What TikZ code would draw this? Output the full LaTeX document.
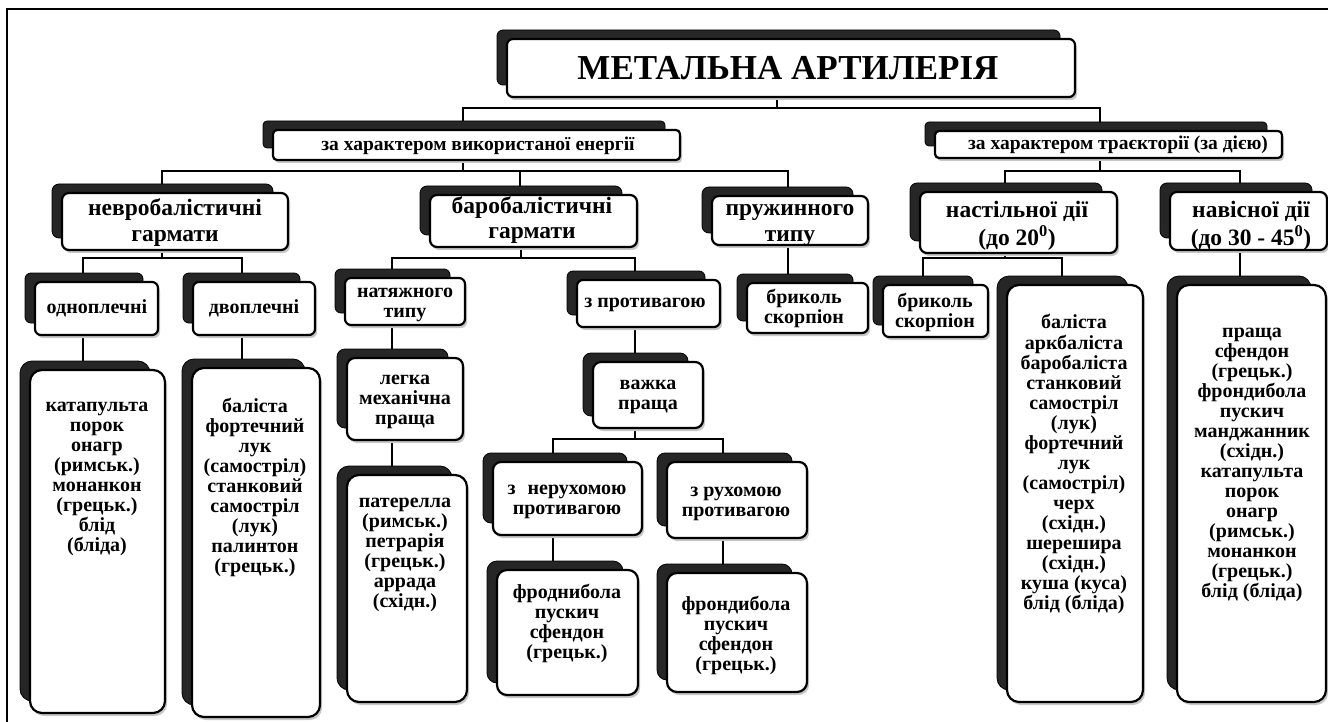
\documentclass[tikz,border=0pt]{standalone}
\usepackage{fontspec}
\setmainfont{Liberation Serif}
\pgfdeclarelayer{bg}
\pgfsetlayers{bg,main}
\newcommand\mybox[6]{%
  \fill[black!22, rounded corners=#6] ({#2+2},{#3+3}) rectangle ({#4+2},{#5+3});
  \fill[backbox, rounded corners=#6] ({#2-10},{#3-9}) rectangle ({#4-15},{#5-12});
  \node[frontbox, rounded corners=#6, minimum width={#4-#2}, minimum height={#5-#3}] (#1) at ({(#2+#4)/2},{(#3+#5)/2}) {};}
\begin{document}
\begin{tikzpicture}[x=1pt,y=-1pt,
  conn/.style={line width=2.4pt, black},
  backbox/.style={fill=black!85, draw=black, line width=0.8pt},
  frontbox/.style={draw=black, fill=white, line width=2.2pt, inner sep=0pt},
  txt/.style={align=center, inner sep=0pt, anchor=north, font=\bfseries\fontsize{20}{20}\selectfont},
  small/.style={font=\bfseries\fontsize{19.5}{20}\selectfont},
  big/.style={font=\bfseries\fontsize{23.5}{25}\selectfont},
  huge/.style={font=\bfseries\fontsize{35}{35}\selectfont}]
\useasboundingbox (0,0) rectangle (1328,722);
\draw[line width=1.5pt] (7,722) -- (7,9) -- (1330,9);
% ---------- boxes ----------
\mybox{title}{507}{39}{1075}{97}{6}
\mybox{energy}{273}{130}{680}{160}{4}
\mybox{traj}{935}{131}{1282}{158}{4}
\mybox{nevro}{62}{193}{288}{250}{7}
\mybox{baro}{430}{195}{637}{247}{7}
\mybox{pruzh}{712}{196}{868}{245}{7}
\mybox{nast}{920}{192}{1117}{253}{7}
\mybox{navis}{1170}{192}{1327}{250}{7}
\mybox{odno}{35}{282}{158}{335}{6}
\mybox{dvo}{193}{282}{315}{335}{6}
\mybox{natyazh}{345}{278}{465}{325}{6}
\mybox{zprot}{577}{280}{720}{327}{6}
\mybox{bryk1}{747}{283}{868}{333}{6}
\mybox{bryk2}{883}{285}{988}{337}{6}
\mybox{katlist}{30}{370}{165}{713}{12}
\mybox{dvolist}{192}{368}{320}{717}{12}
\mybox{legka}{347}{358}{463}{440}{8}
\mybox{vazhka}{593}{362}{703}{428}{8}
\mybox{pater}{347}{475}{467}{702}{12}
\mybox{neruh}{493}{462}{642}{535}{8}
\mybox{ruh}{667}{462}{807}{538}{8}
\mybox{frodny}{497}{570}{638}{695}{10}
\mybox{frond}{667}{573}{807}{692}{10}
\mybox{nastlist}{1007}{285}{1143}{702}{12}
\mybox{navislist}{1177}{285}{1326}{702}{12}
% ---------- texts ----------
\node[txt, huge] (ttitle) at (788,{68-12.9}) {\strut МЕТАЛЬНА АРТИЛЕРІЯ};
\node[txt, small] (tenergy) at (478,{146-9.4}) {\strut за характером використаної енергії};
\node[txt, small] (ttraj) at (1118,{145-9.4}) {\strut за характером траєкторії (за дією)};
\node[txt, big] (tnevro) at (175,{210-11.7}) {\strut невробалістичні\\гармати};
\node[txt, big] (tbaro) at (532,{208-11.7}) {\strut баробалістичні\\гармати};
\node[txt, big] (tpruzh) at (790,{210-11.7}) {\strut пружинного\\типу};
\node[txt, big] (tnast) at (1017,{211-11.7}) {\strut настільної дії\\(до 20\textsuperscript{0})};
\node[txt, big] (tnavis) at (1251,{211-11.7}) {\strut навісної дії\\(до 30 - 45\textsuperscript{0})};
\node[txt] (todno) at (97,{309-9.4}) {\strut одноплечні};
\node[txt] (tdvo) at (254,{309-9.4}) {\strut двоплечні};
\node[txt] (tnatyazh) at (405,{293-9.4}) {\strut натяжного\\типу};
\node[txt] (tzprot) at (645,{303-9.4}) {\strut з противагою};
\node[txt] (tbryk1) at (804,{298-9.4}) {\strut бриколь\\скорпіон};
\node[txt] (tbryk2) at (935,{302-9.4}) {\strut бриколь\\скорпіон};
\node[txt] (tkat) at (97,{407-9.4}) {\strut катапульта\\порок\\онагр\\(римськ.)\\монанкон\\(грецьк.)\\блід\\(бліда)};
\node[txt] (tdvolist) at (255,{407-9.4}) {\strut баліста\\фортечний\\лук\\(самостріл)\\станковий\\самостріл\\(лук)\\палинтон\\(грецьк.)};
\node[txt] (tlegka) at (405,{380-9.4}) {\strut легка\\механічна\\праща};
\node[txt] (tvazhka) at (648,{385-9.4}) {\strut важка\\праща};
\node[txt] (tpater) at (405,{503-9.4}) {\strut патерелла\\(римськ.)\\петрарія\\(грецьк.)\\аррада\\(східн.)};
\node[txt] (tneruh) at (567,{490-9.4}) {\strut з\hspace{0.6em}нерухомою\\противагою};
\node[txt] (truh) at (736,{492-9.4}) {\strut з рухомою\\противагою};
\node[txt] (tfrodny) at (567,{593-9.4}) {\strut фроднибола\\пускич\\сфендон\\(грецьк.)};
\node[txt] (tfrond) at (736,{605-9.4}) {\strut фрондибола\\пускич\\сфендон\\(грецьк.)};
\node[txt] (tnastlist) at (1074,{323-9.4}) {\strut баліста\\аркбаліста\\баробаліста\\станковий\\самостріл\\(лук)\\фортечний\\лук\\(самостріл)\\черх\\(східн.)\\шерешира\\(східн.)\\куша (куса)\\блід (бліда)};
\node[txt] (tnavislist) at (1252,{333-9.4}) {\strut праща\\сфендон\\(грецьк.)\\фрондибола\\пускич\\манджанник\\(східн.)\\катапульта\\порок\\онагр\\(римськ.)\\монанкон\\(грецьк.)\\блід (бліда)};
% ---------- connectors ----------
\begin{pgfonlayer}{bg}
\draw[conn] ([xshift=-14]title.south) -- ++(0,10) coordinate (b0);
\draw[conn] ([xshift=-13.5]energy.north) |- (b0) -| ([xshift=-8.5]traj.north);
\draw[conn] ([xshift=-13.5]energy.south) -- ++(0,10) coordinate (b1);
\draw[conn] ([xshift=-13]nevro.north) |- (b1) -| ([xshift=-2]pruzh.north);
\draw[conn] ([xshift=-13.5]baro.north) |- (b1);
\draw[conn] ([xshift=-8.5]traj.south) -- ++(0,12) coordinate (b2);
\draw[conn] ([xshift=-13.5]nast.north) |- (b2) -| ([xshift=-8.5]navis.north);
\draw[conn] ([xshift=-13]nevro.south) -- ++(0,7) coordinate (b3);
\draw[conn] ([xshift=-13.5]odno.north) |- (b3) -| ([xshift=-12]dvo.north);
\draw[conn] ([xshift=-12.5]baro.south) -- ++(0,10) coordinate (b4);
\draw[conn] ([xshift=-13]natyazh.north) |- (b4) -| ([xshift=-13.5]zprot.north);
\draw[conn] ([xshift=-2]pruzh.south) -- ([xshift=-19.5]bryk1.north);
\draw[conn] ([xshift=-13.5]nast.south) -- ++(0,4) coordinate (b5);
\draw[conn] ([xshift=-12.5]bryk2.north) |- (b5) -| ([xshift=-13]nastlist.north);
\draw[conn] ([xshift=-8.5]navis.south) -- ([xshift=-11.5]navislist.north);
\draw[conn] ([xshift=-13.5]odno.south) -- ([xshift=-14.5]katlist.north);
\draw[conn] ([xshift=-12]dvo.south) -- ([xshift=-14]dvolist.north);
\draw[conn] ([xshift=-13]natyazh.south) -- ([xshift=-13]legka.north);
\draw[conn] ([xshift=-13]legka.south) -- ([xshift=-15]pater.north);
\draw[conn] ([xshift=-13.5]zprot.south) -- ([xshift=-13]vazhka.north);
\draw[conn] ([xshift=-13]vazhka.south) -- ++(0,10) coordinate (b6);
\draw[conn] ([xshift=-14.5]neruh.north) |- (b6) -| ([xshift=-14]ruh.north);
\draw[conn] ([xshift=-14.5]neruh.south) -- ([xshift=-14.5]frodny.north);
\draw[conn] ([xshift=-14]ruh.south) -- ([xshift=-14]frond.north);
\end{pgfonlayer}
\end{tikzpicture}
\end{document}
